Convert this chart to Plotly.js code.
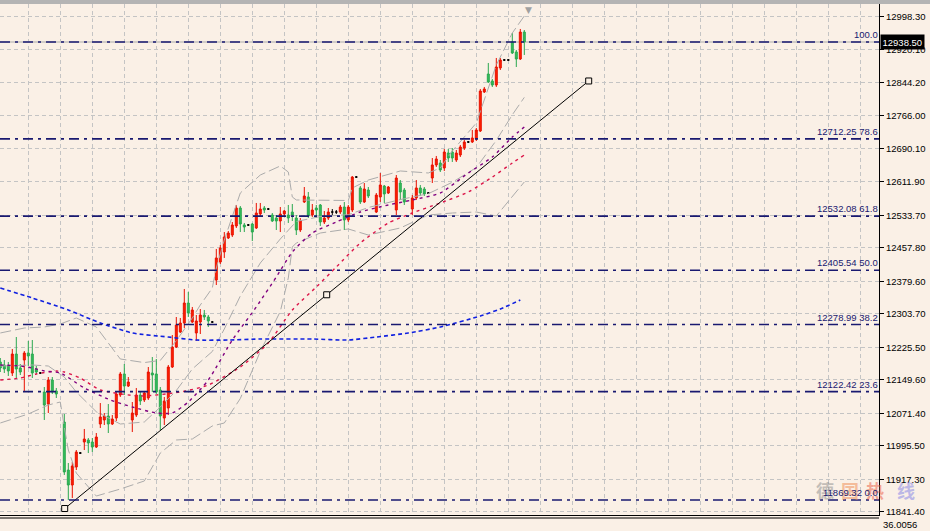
<!DOCTYPE html>
<html><head><meta charset="utf-8">
<script src="https://cdn.plot.ly/plotly-3.0.1.min.js"></script>
<style>html,body{margin:0;padding:0;background:#faf0e6;}#chart{width:930px;height:531px;}</style>
</head><body><div id="chart"></div>
<script>
// ---- candle data (bar index, OHLC) ----
const barIdx = [0,1,2,3,4,5,6,7,8,9,10,11,12,13,14,16,17,18,19,20,21,22,23,24,25,26,27,28,29,30,31,32,33,34,35,36,37,38,39,40,41,42,43,44,45,46,47,48,49,50,51,52,53,54,55,56,57,58,59,60,61,62,63,64,65,66,67,68,69,70,71,72,73,74,75,76,77,78,79,80,81,82,83,84,85,86,87,88,89,90,91,92,94,95,96,97,99,100,101,103,104,105,106,107,108,109,110,111,112,113,114,115,116,117,118,119,120,121,122,123,124,125,126,127,128,129,130,131];
const openP = [12191.5,12184.5,12182.1,12165.8,12210.1,12177.5,12196.1,12212.5,12210.1,12175.1,12165.8,12121.4,12093.4,12149.4,12123.8,12051.4,11939.3,11904.3,11946.3,11979.0,12004.7,12009.4,12004.7,11993.0,12046.7,12056.1,12065.4,12046.7,12060.7,12114.4,12163.5,12135.4,12056.1,12067.7,12114.4,12102.8,12107.4,12165.8,12163.5,12126.1,12060.7,12084.1,12179.8,12226.5,12261.5,12282.5,12329.2,12284.8,12259.2,12284.8,12301.2,12296.5,12284.8,12382.9,12424.9,12448.3,12480.9,12487.9,12509.0,12551.0,12511.3,12511.3,12513.6,12504.3,12537.0,12551.0,12548.6,12534.6,12527.6,12520.6,12537.0,12534.6,12541.6,12527.6,12499.6,12565.0,12576.7,12534.6,12551.0,12558.0,12518.3,12527.6,12541.6,12541.6,12541.6,12553.3,12523.0,12546.3,12623.3,12597.7,12565.0,12593.0,12541.6,12576.7,12602.3,12586.0,12546.3,12609.3,12593.0,12548.6,12574.3,12597.7,12595.3,12586.0,12621.0,12651.4,12656.0,12644.4,12679.4,12681.7,12663.0,12674.7,12691.0,12705.1,12705.1,12712.1,12730.7,12821.8,12863.8,12847.5,12838.1,12877.8,12896.5,12896.5,12938.5,12915.2,12898.8,12961.8];
const highP = [12200.8,12196.1,12191.5,12221.8,12249.8,12186.8,12217.1,12240.5,12242.8,12182.1,12168.1,12133.1,12156.4,12156.4,12130.8,12070.1,11955.7,11958.0,11986.0,11981.4,12035.1,12014.0,12014.0,12025.7,12095.7,12072.4,12093.4,12067.7,12121.4,12168.1,12186.8,12156.4,12098.1,12130.8,12121.4,12123.8,12179.8,12203.1,12198.5,12133.1,12109.8,12184.5,12254.5,12296.5,12294.2,12361.9,12354.9,12319.9,12301.2,12315.2,12312.9,12301.2,12287.2,12455.3,12464.6,12494.9,12497.3,12518.3,12558.0,12555.6,12516.0,12513.6,12516.0,12562.7,12562.7,12555.6,12551.0,12539.3,12534.6,12553.3,12546.3,12558.0,12560.3,12534.6,12527.6,12600.0,12588.3,12560.3,12558.0,12560.3,12544.0,12551.0,12548.6,12546.3,12558.0,12565.0,12558.0,12625.7,12625.7,12602.3,12609.3,12600.0,12586.0,12632.7,12604.7,12602.3,12628.0,12616.3,12597.7,12581.3,12616.3,12604.7,12600.0,12588.3,12667.7,12672.4,12663.0,12688.7,12688.7,12691.0,12686.4,12698.1,12709.7,12707.4,12733.1,12737.7,12828.8,12833.5,12889.5,12852.1,12901.2,12901.2,12898.8,12898.8,12959.5,12919.8,12968.9,12966.5];
const lowP = [12168.1,12165.8,12158.8,12158.8,12154.1,12161.1,12121.4,12182.1,12154.1,12163.5,12163.5,12056.1,12072.4,12116.8,12107.4,11927.7,11869.3,11874.0,11939.3,11976.7,11986.0,11979.0,11981.4,11990.7,12037.4,12044.4,12025.7,12044.4,12053.7,12109.8,12114.4,12133.1,12028.0,12063.1,12091.1,12098.1,12102.8,12121.4,12116.8,12032.7,12044.4,12067.7,12177.5,12224.1,12259.2,12270.8,12296.5,12282.5,12240.5,12256.8,12289.5,12273.2,12282.5,12371.2,12420.2,12434.3,12478.6,12483.3,12504.3,12494.9,12494.9,12509.0,12473.9,12502.0,12530.0,12539.3,12546.3,12518.3,12499.6,12494.9,12530.0,12516.0,12520.6,12487.9,12494.9,12562.7,12527.6,12530.0,12527.6,12509.0,12513.6,12523.0,12534.6,12537.0,12537.0,12499.6,12518.3,12541.6,12621.0,12560.3,12562.7,12574.3,12539.3,12565.0,12562.7,12583.7,12534.6,12569.7,12558.0,12534.6,12569.7,12579.0,12579.0,12583.7,12609.3,12646.7,12635.0,12637.4,12658.4,12658.4,12658.4,12670.0,12686.4,12702.7,12702.7,12707.4,12728.4,12819.4,12842.8,12833.5,12833.5,12873.1,12894.2,12894.2,12910.5,12880.1,12896.5,12908.2];
const closeP = [12177.5,12175.1,12170.5,12210.1,12175.1,12168.1,12212.5,12205.5,12165.8,12168.1,12165.8,12091.1,12149.4,12121.4,12116.8,11934.7,11904.3,11948.7,11981.4,11979.0,12011.7,12002.4,11993.0,12016.4,12063.1,12065.4,12046.7,12058.4,12116.8,12163.5,12135.4,12144.8,12072.4,12114.4,12100.4,12119.1,12168.1,12161.1,12121.4,12065.4,12100.4,12179.8,12226.5,12277.8,12282.5,12329.2,12305.9,12312.9,12287.2,12301.2,12296.5,12287.2,12284.8,12434.3,12457.6,12483.3,12492.6,12511.3,12551.0,12513.6,12506.6,12511.3,12494.9,12539.3,12548.6,12546.3,12548.6,12520.6,12520.6,12537.0,12544.0,12527.6,12534.6,12499.6,12520.6,12579.0,12532.3,12546.3,12546.3,12518.3,12527.6,12541.6,12541.6,12541.6,12553.3,12523.0,12553.3,12623.3,12623.3,12565.0,12595.3,12579.0,12581.3,12604.7,12583.7,12600.0,12621.0,12588.3,12565.0,12574.3,12597.7,12586.0,12583.7,12586.0,12651.4,12665.4,12639.7,12681.7,12667.7,12667.7,12679.4,12693.4,12705.1,12705.1,12714.4,12733.1,12824.1,12828.8,12845.1,12838.1,12880.1,12896.5,12896.5,12896.5,12912.8,12898.8,12961.8,12938.5];

// ---- indicator lines (bar index, price) ----
const maBlueIdx = [0,8,17,25,33,42,49,57,65,78,87,94,102,110,120,125,130];
const maBlueVal = [12364.2,12340.9,12312.9,12282.5,12259.2,12249.8,12242.8,12242.8,12245.1,12245.1,12242.8,12249.8,12259.2,12273.2,12298.8,12315.2,12336.2];
const maPurpleIdx = [0,5,8,11,15,21,27.5,33,39,43,47,52,58,64,69,73,78,84,90,97,103,110,117,123,128,131];
const maPurpleVal = [12184.5,12182.1,12177.5,12170.5,12165.8,12130.8,12102.8,12086.4,12072.4,12072.4,12098.1,12149.4,12242.8,12319.9,12389.9,12448.3,12492.6,12518.3,12541.6,12558.0,12569.7,12586.0,12632.7,12670.0,12716.7,12740.1];
const maRedIdx = [0,5,9,14,16,20,25,35,45,52,60,67,73,79,84,90,97,103,110,117,123,128,131];
const maRedVal = [12149.4,12154.1,12163.5,12170.5,12168.1,12154.1,12126.1,12112.1,12121.4,12137.8,12179.8,12235.8,12312.9,12366.5,12413.2,12469.3,12515.9,12539.3,12562.7,12588.3,12623.3,12656.0,12674.7];
// Bollinger-style grey bands (upper / middle / lower)
const bandUpIdx = [0,6,11,15,19,24,30,36,40,44,48,50,53,54,56,60,65,70,72,73,74,80,87,88,92,100,107,110,113,119,121,124,128,131];
const bandUpVal = [12259.2,12270.8,12273.2,12280.2,12294.2,12273.2,12198.5,12190.1,12195.2,12241.2,12294.2,12324.5,12364.2,12410.9,12476.3,12586.0,12628.0,12649.1,12635.0,12576.7,12569.7,12569.7,12568.5,12597.7,12616.3,12637.4,12632.7,12644.4,12684.0,12749.4,12803.1,12884.8,12959.5,12999.2];
const bandMidIdx = [0,8,12,16,19,24,30,36,40,44,48,53,56,60,65,70,74,80,87,92,100,107,113,119,124,128,131];
const bandMidVal = [12182.1,12184.5,12182.1,12156.4,12121.4,12075.4,12046.7,12051.4,12086.4,12124.9,12175.1,12216.0,12268.5,12345.5,12422.6,12478.6,12519.4,12531.1,12535.3,12552.1,12570.6,12584.4,12611.0,12645.3,12708.8,12768.5,12809.2];
const bandLoIdx = [0,7,12,15,16,17,19,24,30,36,40,44,48,53,56,60,65,70,72,73,74,80,87,92,100,107,113,119,124,128,131];
const bandLoVal = [12049.1,12070.1,12091.1,12098.1,12039.7,11986.0,11932.3,11878.6,11894.9,11913.7,11979.0,12009.4,12011.7,12042.1,12049.1,12106.2,12216.0,12309.4,12387.6,12459.9,12469.3,12492.6,12502.0,12487.9,12504.3,12534.6,12539.3,12541.6,12532.3,12579.0,12611.7];

// ---- Fibonacci retracement ----
const fibLevels = ['0.0','23.6','38.2','50.0','61.8','78.6','100.0'];
const fibPrices = [11869.32,12122.42,12278.99,12405.54,12532.08,12712.25,12938.50];
// ---- trend line anchors ----
const trendIdx = [16.1, 81.6, 147.1];
const trendVal = [11849.4, 12348.4, 12847.5];
// ---- axis ----
const yTickVals = [12998.30,12920.10,12844.20,12766.00,12690.10,12611.90,12533.70,12457.80,12379.60,12303.70,12225.50,12149.60,12071.40,11995.50,11917.30,11841.40];
const lastPrice = 12938.50;
const subValue = '36.0056';
const watermarkChars = ['德','国','热','线'];

const gridX = [];
for (let k = 7; k <= 216; k += 8) gridX.push(k);

function pick(cond){
  const o={x:[],open:[],high:[],low:[],close:[]};
  barIdx.forEach((b,i)=>{ if(cond(openP[i],closeP[i])){o.x.push(b);o.open.push(openP[i]);o.high.push(highP[i]);o.low.push(lowP[i]);o.close.push(closeP[i]);}});
  return o;
}
const up = pick((o,c)=>c>o), dn = pick((o,c)=>c<o), dj = pick((o,c)=>c===o);
const RED='#ff2200', GREEN='#33bf5c';
function candle(d, incCol, decCol, fillI, fillD){
  return Object.assign({type:'candlestick', hoverinfo:'skip', whiskerwidth:0,
    increasing:{line:{color:incCol,width:1},fillcolor:fillI},
    decreasing:{line:{color:decCol,width:1},fillcolor:fillD}}, d);
}
const GRAY='#ababab';
function band(x,y){return {type:'scatter',mode:'lines',x:x,y:y,line:{color:GRAY,width:1,dash:'11px,4px'},hoverinfo:'skip'};}
const traces = [
  candle(up, '#e81000', '#e81000', RED, RED),
  candle(dn, '#2aa84f', '#2aa84f', GREEN, GREEN),
  candle(dj, '#000', '#000', '#000', '#000'),
  band(bandUpIdx,bandUpVal), band(bandMidIdx,bandMidVal), band(bandLoIdx,bandLoVal),
  {type:'scatter',mode:'lines',x:maBlueIdx,y:maBlueVal,line:{color:'#1020e0',width:1.6,dash:'4px,3px',shape:'spline',smoothing:0.6},hoverinfo:'skip'},
  {type:'scatter',mode:'lines',x:maRedIdx,y:maRedVal,line:{color:'#dc1448',width:1.4,dash:'3px,4px',shape:'spline',smoothing:0.6},hoverinfo:'skip'},
  {type:'scatter',mode:'lines',x:maPurpleIdx,y:maPurpleVal,line:{color:'#800080',width:1.4,dash:'3px,4px',shape:'spline',smoothing:0.6},hoverinfo:'skip'},
  {type:'scatter',mode:'lines+markers',x:trendIdx,y:trendVal,line:{color:'#000',width:1},
   marker:{symbol:'square',size:6,color:'#faf0e6',line:{color:'#000',width:1}},hoverinfo:'skip'}
];

const shapes = [
  {type:'rect',xref:'paper',yref:'paper',x0:-0.01,x1:1.07,y0:1,y1:1+4/511,fillcolor:'#b4b4b4',line:{width:0},layer:'above'},
  {type:'line',xref:'paper',yref:'paper',x0:0,x1:1,y0:-3/511,y1:-3/511,line:{color:'#000',width:1},layer:'above'},
  {type:'line',xref:'paper',yref:'y',x0:0,x1:1,y0:lastPrice,y1:lastPrice,line:{color:'#aaaaaa',width:1},layer:'below'}
];
fibPrices.forEach(p=>shapes.push({type:'line',xref:'paper',yref:'y',x0:0,x1:1,y0:p,y1:p,
  line:{color:'#191970',width:1.6,dash:'10px,5px,3px,5px'},layer:'above'}));

const FONT='Liberation Sans, Arial, sans-serif';
const annotations = [];
// watermark (drawn first so the texts sit over it)
const wmX = [825,850,874.5,906], wmCol = ['#8c8c8c','#f08a50','#ec5a40','#8080e6'];
watermarkChars.forEach((ch,i)=>annotations.push({xref:'paper',yref:'paper',x:wmX[i]/879,y:25/511,xanchor:'center',yanchor:'middle',
  showarrow:false,opacity:0.5,text:'<b>'+ch+'</b>',font:{family:'Noto Sans CJK SC',size:18,color:wmCol[i]}}));
fibPrices.forEach((p,i)=>{
  const t = fibLevels[i]==='100.0' ? '100.0' : p.toFixed(2)+' '+fibLevels[i];
  annotations.push({xref:'paper',yref:'y',x:1,y:p,xanchor:'right',yanchor:'bottom',text:t,showarrow:false,
    font:{family:FONT,size:9.5,color:'#191970'},borderpad:0,yshift:1});
});
annotations.push({xref:'paper',yref:'y',x:1,y:lastPrice,xanchor:'left',yanchor:'middle',xshift:1,text:lastPrice.toFixed(2),
  showarrow:false,bgcolor:'#000',font:{family:FONT,size:9.5,color:'#fff'},borderpad:1.5});
annotations.push({xref:'paper',yref:'paper',x:1,y:-10/511,xanchor:'left',yanchor:'middle',xshift:2,text:subValue,
  showarrow:false,font:{family:FONT,size:9.5,color:'#000'}});
annotations.push({xref:'paper',yref:'paper',x:528/879,y:1,xanchor:'center',yanchor:'top',text:'▼',showarrow:false,
  font:{family:'DejaVu Sans',size:9,color:'#a0a0a0'},yshift:1});

const layout = {
  width:930,height:531,margin:{l:0,r:51,t:4,b:16},
  paper_bgcolor:'#faf0e6',plot_bgcolor:'#faf0e6',showlegend:false,
  xaxis:{range:[-0.075,219.675],showticklabels:false,ticks:'',tickmode:'array',tickvals:gridX,
    showgrid:true,gridcolor:'#c4c4c4',griddash:'4px,3px',gridwidth:1,zeroline:false,
    showline:true,linecolor:'#000',linewidth:1,mirror:true,rangeslider:{visible:false},fixedrange:true},
  yaxis:{side:'right',range:[11834.3,13027.2],tickmode:'array',tickvals:yTickVals,ticktext:yTickVals.map(v=>v.toFixed(2)),
    showgrid:true,gridcolor:'#c4c4c4',griddash:'4px,3px',gridwidth:1,zeroline:false,
    ticks:'outside',ticklen:4,tickcolor:'#000',showline:true,linecolor:'#000',linewidth:1,
    tickfont:{family:FONT,size:9.5,color:'#000'},fixedrange:true},
  shapes:shapes,annotations:annotations
};
Plotly.newPlot('chart',traces,layout,{displayModeBar:false,staticPlot:true});
</script></body></html>
